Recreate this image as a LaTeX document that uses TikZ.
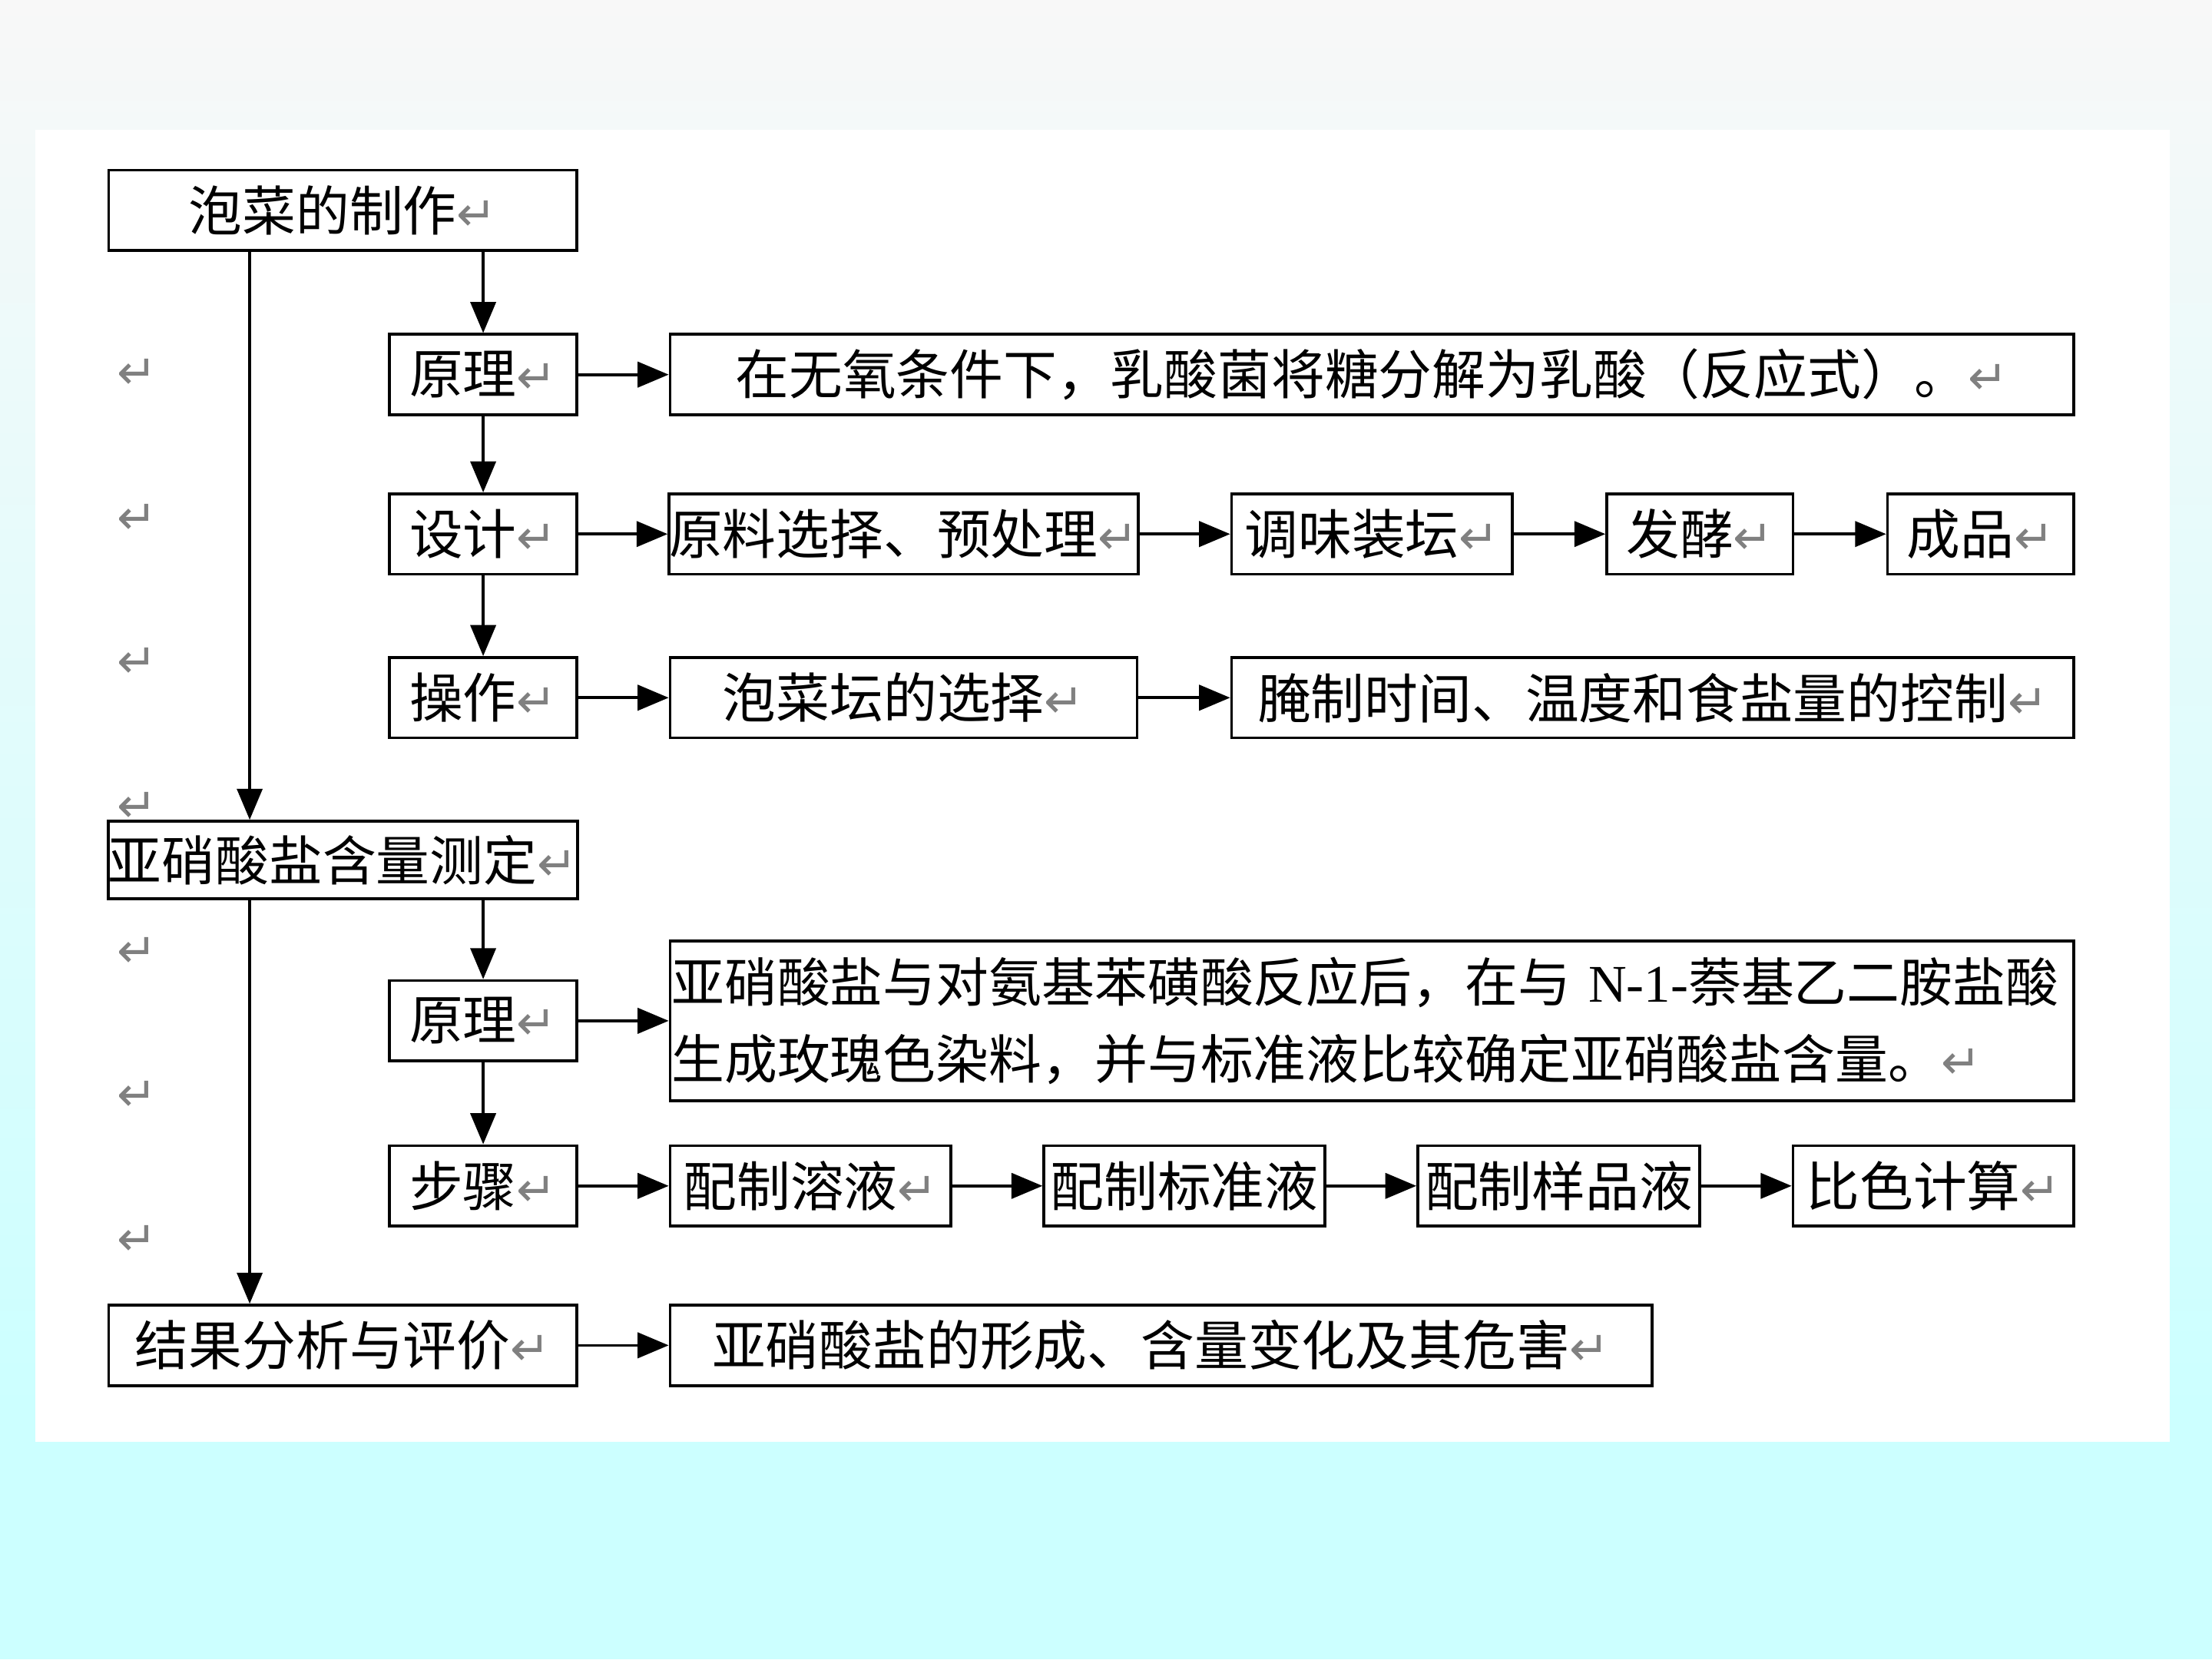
\documentclass[tikz,border=0pt]{standalone}
\usepackage{fontspec}
\usepackage{tikz}
\usetikzlibrary{arrows.meta}
\setmainfont{Liberation Serif}
\newfontfamily\cjk{Noto Sans CJK SC}
\newfontfamily\retfont{DejaVu Sans}
\definecolor{bgtop}{HTML}{F8F8F8}
\definecolor{bgcyan}{HTML}{CCFFFF}
\definecolor{retgray}{HTML}{808080}
\newcommand{\ret}{{\retfont\color{retgray}\fontsize{34}{34}\selectfont ↵}}
\tikzset{
  box/.style={draw, line width=2pt, fill=white, inner sep=0pt, minimum height=57pt,
    font=\cjk\fontsize{38}{44}\selectfont},
  arrow/.style={line width=2pt, -{Triangle[length=22pt,width=18pt]}},
  retmark/.style={inner sep=0pt}
}
\begin{document}
\begin{tikzpicture}[x=1pt,y=-1pt]
      \useasboundingbox (0,0) rectangle (1568,1176);
      \shade[top color=bgtop, bottom color=bgcyan] (0,0) rectangle (1568,1000);
      \fill[bgcyan] (0,1000) rectangle (1568,1176);
      \fill[white] (25,92) rectangle (1538,1022);
      \coordinate (trunk) at (177,0);
      \foreach \y [count=\i] in {265,368,470,572,675,777,879}
        \node[retmark] (ret\i) at (97,\y) {\ret};
      \node[box, minimum width=332pt] (zhizuo) at (243,149) {泡菜的制作\ret};
      \node[box, minimum width=133pt] (yuanli) at (342.5,265.5) {原理\ret};
      \node[box, minimum width=995pt] (wuyang) at (972.5,265.5) {在无氧条件下，乳酸菌将糖分解为乳酸（反应式）。\ret};
      \node[box, minimum width=133pt] (sheji) at (342.5,378.5) {设计\ret};
      \node[box, minimum width=331pt] (yuanliao) at (640.5,378.5) {原料选择、预处理\ret};
      \node[box, minimum width=199pt] (tiaowei) at (972.5,378.5) {调味装坛\ret};
      \node[box, minimum width=132pt] (fajiao) at (1205,378.5) {发酵\ret};
      \node[box, minimum width=132pt] (chengpin) at (1404,378.5) {成品\ret};
      \node[box, minimum width=133pt] (caozuo) at (342.5,494.5) {操作\ret};
      \node[box, minimum width=331pt] (tan) at (640.5,494.5) {泡菜坛的选择\ret};
      \node[box, minimum width=597pt] (yanzhi) at (1171.5,494.5) {腌制时间、温度和食盐量的控制\ret};
      \node[box, minimum width=332pt, minimum height=55pt] (ceding) at (243,609.5) {亚硝酸盐含量测定\ret};
      \node[box, minimum width=133pt] (yuanlib) at (342.5,723.5) {原理\ret};
      \node[box, minimum width=995pt, minimum height=113pt, text width=993pt, align=left,
        font=\cjk\fontsize{37.5}{54}\selectfont] (fanying) at (972.5,723.5)
        {\mbox{亚硝酸盐与对氨基苯磺酸反应后，在与 {\rmfamily N-1-}萘基乙二胺盐酸}\\生成玫瑰色染料，并与标准液比较确定亚硝酸盐含量。\ret};
      \node[box, minimum width=133pt] (buzhou) at (342.5,840.5) {步骤\ret};
      \node[box, minimum width=199pt] (rongye) at (574.5,840.5) {配制溶液\ret};
      \node[box, minimum width=199pt] (biaozhun) at (839.5,840.5) {配制标准液};
      \node[box, minimum width=200pt] (yangpin) at (1105,840.5) {配制样品液};
      \node[box, minimum width=199pt] (bise) at (1370.5,840.5) {比色计算\ret};
      \node[box, minimum width=332pt] (jieguo) at (243,953.5) {结果分析与评价\ret};
      \node[box, minimum width=696pt] (weihai) at (823,953.5) {亚硝酸盐的形成、含量变化及其危害\ret};
      \draw[arrow] (zhizuo.south -| trunk) -- (ceding.north -| trunk);
      \draw[arrow] (ceding.south -| trunk) -- (jieguo.north -| trunk);
      \draw[arrow] (zhizuo.south -| yuanli) -- (yuanli.north);
      \draw[arrow] (yuanli) -- (sheji);
      \draw[arrow] (sheji) -- (caozuo);
      \draw[arrow] (ceding.south -| yuanlib) -- (yuanlib.north);
      \draw[arrow] (yuanlib) -- (buzhou);
      \draw[arrow] (yuanli) -- (wuyang.west);
      \draw[arrow] (sheji) -- (yuanliao);
      \draw[arrow] (yuanliao) -- (tiaowei);
      \draw[arrow] (tiaowei) -- (fajiao);
      \draw[arrow] (fajiao) -- (chengpin);
      \draw[arrow] (caozuo) -- (tan);
      \draw[arrow] (tan) -- (yanzhi);
      \draw[arrow] (yuanlib) -- (fanying.west);
      \draw[arrow] (buzhou) -- (rongye);
      \draw[arrow] (rongye) -- (biaozhun);
      \draw[arrow] (biaozhun) -- (yangpin);
      \draw[arrow] (yangpin) -- (bise);
      \draw[arrow] (jieguo) -- (weihai);
    \end{tikzpicture}
\end{document}
